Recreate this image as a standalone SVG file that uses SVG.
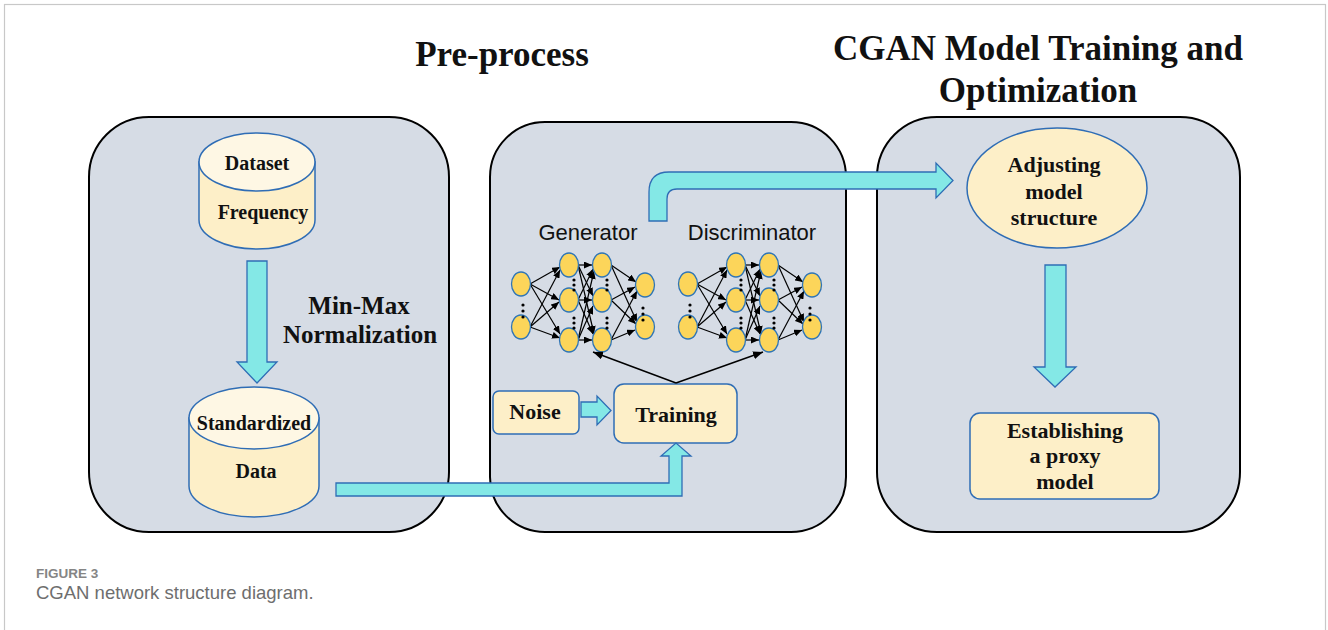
<svg xmlns="http://www.w3.org/2000/svg" xmlns:xlink="http://www.w3.org/1999/xlink" width="1328" height="630" viewBox="0 0 1328 630">
<style>
.panel{fill:#d6dce5;stroke:#000;stroke-width:2}
.shape{fill:#fdefc8;stroke:#2f6db5;stroke-width:1.5}
.top{fill:#fef7e4;stroke:#2f6db5;stroke-width:1.5}
.cyan{fill:#84e8e6;stroke:#2f6db5;stroke-width:1.3;stroke-linejoin:miter}
.t{font-family:"Liberation Serif","Times New Roman",serif;font-weight:bold;fill:#111;text-anchor:middle}
.s{font-family:"Liberation Sans",Arial,sans-serif;fill:#111;text-anchor:middle}
.n{fill:#fcd55a;stroke:#2f75b6;stroke-width:1.3}
.e{stroke:#000;stroke-width:1.2;fill:none;marker-end:url(#ah)}
.d{fill:#000}
</style>
<defs>
<marker id="ah" markerUnits="userSpaceOnUse" markerWidth="8" markerHeight="7" refX="8" refY="3.5" orient="auto"><path d="M0,0 L8,3.5 L0,7 z" fill="#000"/></marker>
<marker id="ah2" markerUnits="userSpaceOnUse" markerWidth="10" markerHeight="8" refX="10" refY="4" orient="auto"><path d="M0,0 L10,4 L0,8 z" fill="#000"/></marker>
<g id="nn">
<g>
<line class="e" x1="530" y1="284" x2="560" y2="267"/>
<line class="e" x1="530" y1="284" x2="559" y2="300"/>
<line class="e" x1="530" y1="284" x2="560" y2="334"/>
<line class="e" x1="530" y1="327" x2="560" y2="270"/>
<line class="e" x1="530" y1="327" x2="559" y2="302"/>
<line class="e" x1="530" y1="327" x2="560" y2="338"/>
<line class="e" x1="578" y1="265" x2="592" y2="265"/>
<line class="e" x1="578" y1="265" x2="593" y2="296"/>
<line class="e" x1="578" y1="265" x2="594" y2="334"/>
<line class="e" x1="578" y1="300" x2="593" y2="269"/>
<line class="e" x1="578" y1="300" x2="592" y2="300"/>
<line class="e" x1="578" y1="300" x2="593" y2="334"/>
<line class="e" x1="578" y1="340" x2="594" y2="271"/>
<line class="e" x1="578" y1="340" x2="593" y2="306"/>
<line class="e" x1="578" y1="340" x2="592" y2="340"/>
<line class="e" x1="611" y1="265" x2="636" y2="282"/>
<line class="e" x1="611" y1="265" x2="637" y2="322"/>
<line class="e" x1="611" y1="300" x2="635" y2="287"/>
<line class="e" x1="611" y1="300" x2="636" y2="324"/>
<line class="e" x1="611" y1="340" x2="637" y2="291"/>
<line class="e" x1="611" y1="340" x2="635" y2="330"/>
</g>
<ellipse class="n" cx="521" cy="284" rx="9.5" ry="12"/>
<ellipse class="n" cx="521" cy="327" rx="9.5" ry="12"/>
<ellipse class="n" cx="569" cy="265" rx="9.5" ry="12"/>
<ellipse class="n" cx="569" cy="300" rx="9.5" ry="12"/>
<ellipse class="n" cx="569" cy="340" rx="9.5" ry="12"/>
<ellipse class="n" cx="602" cy="265" rx="9.5" ry="12"/>
<ellipse class="n" cx="602" cy="300" rx="9.5" ry="12"/>
<ellipse class="n" cx="602" cy="340" rx="9.5" ry="12"/>
<ellipse class="n" cx="645" cy="285" rx="9.5" ry="12"/>
<ellipse class="n" cx="645" cy="327" rx="9.5" ry="12"/>
<g class="d">
<circle cx="523" cy="305" r="1.6"/><circle cx="523" cy="311" r="1.6"/><circle cx="523" cy="317" r="1.6"/>
<circle cx="574" cy="280" r="1.6"/><circle cx="574" cy="285" r="1.6"/><circle cx="574" cy="290" r="1.6"/>
<circle cx="574" cy="318" r="1.6"/><circle cx="574" cy="323" r="1.6"/><circle cx="574" cy="328" r="1.6"/>
<circle cx="607" cy="280" r="1.6"/><circle cx="607" cy="285" r="1.6"/><circle cx="607" cy="290" r="1.6"/>
<circle cx="607" cy="318" r="1.6"/><circle cx="607" cy="323" r="1.6"/><circle cx="607" cy="328" r="1.6"/>
<circle cx="643" cy="308" r="1.6"/><circle cx="643" cy="314" r="1.6"/><circle cx="643" cy="320" r="1.6"/>
</g>
</g>
</defs>
<rect x="0" y="0" width="1328" height="630" fill="#fff"/>
<rect x="4.5" y="4.5" width="1321" height="700" fill="none" stroke="#c8c8c8" stroke-width="1.2"/>

<g id="titles">
<text class="t" x="502" y="66" font-size="35">Pre-process</text>
<text class="t" x="1038" y="60" font-size="35">CGAN Model Training and</text>
<text class="t" x="1038" y="102" font-size="35">Optimization</text>
</g>

<g id="panel-preprocess"><rect class="panel" x="89" y="117" width="360" height="415" rx="60"/></g>
<g id="panel-gan"><rect class="panel" x="490" y="122" width="356" height="410" rx="55"/></g>
<g id="panel-train"><rect class="panel" x="877" y="117" width="363" height="415" rx="60"/></g>

<g id="dataset">
<path class="shape" d="M199,162 L199,220 A58,29 0 0 0 315,220 L315,162 Z"/>
<ellipse class="top" cx="257" cy="162" rx="58" ry="29"/>
<text class="t" x="257" y="170" font-size="20">Dataset</text>
<text class="t" x="263" y="219" font-size="20">Frequency</text>
</g>

<g id="standardized">
<path class="shape" d="M189,418 L189,486 A65,31 0 0 0 319,486 L319,418 Z"/>
<ellipse class="top" cx="254" cy="418" rx="65" ry="31"/>
<text class="t" x="254" y="430" font-size="20">Standardized</text>
<text class="t" x="256" y="478" font-size="20">Data</text>
</g>

<g id="minmax-label">
<text class="t" x="359" y="314" font-size="25">Min-Max</text>
<text class="t" x="360" y="343" font-size="25">Normalization</text>
</g>

<g id="networks">
<text class="s" x="588" y="240" font-size="22">Generator</text>
<text class="s" x="752" y="240" font-size="22">Discriminator</text>
<use xlink:href="#nn"/>
<use xlink:href="#nn" x="167"/>
</g>

<g id="noise">
<rect class="shape" x="493" y="391" width="86" height="43" rx="6"/>
<text class="t" x="535" y="419" font-size="22">Noise</text>
</g>

<g id="training">
<rect class="shape" x="614" y="384" width="123" height="59" rx="10"/>
<text class="t" x="676" y="422" font-size="22">Training</text>
</g>

<g id="adjusting">
<ellipse class="shape" cx="1057" cy="188" rx="90" ry="60"/>
<text class="t" x="1054" y="172" font-size="22">Adjusting</text>
<text class="t" x="1054" y="199" font-size="22">model</text>
<text class="t" x="1054" y="225" font-size="22">structure</text>
</g>

<g id="proxy">
<rect class="shape" x="970" y="413" width="189" height="86" rx="10"/>
<text class="t" x="1065" y="438" font-size="22">Establishing</text>
<text class="t" x="1065" y="463" font-size="22">a proxy</text>
<text class="t" x="1065" y="489" font-size="22">model</text>
</g>

<g id="connectors">
<path class="cyan" d="M247,261 L267,261 L267,362 L277,362 L257,383 L237,362 L247,362 Z"/>
<path class="cyan" d="M336,483 L669,483 L669,456 L661,456 L676,443 L691,456 L682,456 L682,496 L336,496 Z"/>
<path class="cyan" d="M581,402 L597,402 L597,396 L611,410.5 L597,425 L597,417 L581,417 Z"/>
<path class="cyan" d="M649,221 L649,192 Q649,172 669,172 L936,172 L936,163 L953,180.5 L936,198 L936,189 L677,189 Q667,189 667,199 L667,221 Z"/>
<path class="cyan" d="M1045,265 L1066,265 L1066,367 L1076,367 L1055,387 L1034,367 L1045,367 Z"/>
<line x1="676" y1="383" x2="593" y2="352" stroke="#000" stroke-width="1.5" marker-end="url(#ah2)"/>
<line x1="676" y1="383" x2="763" y2="352" stroke="#000" stroke-width="1.5" marker-end="url(#ah2)"/>
</g>

<g id="caption">
<text x="36" y="578" font-family="'Liberation Sans',Arial,sans-serif" font-weight="bold" font-size="13.5" fill="#858585">FIGURE 3</text>
<text x="36" y="599" font-family="'Liberation Sans',Arial,sans-serif" font-size="18.5" fill="#6e6e6e">CGAN network structure diagram.</text>
</g>
</svg>
